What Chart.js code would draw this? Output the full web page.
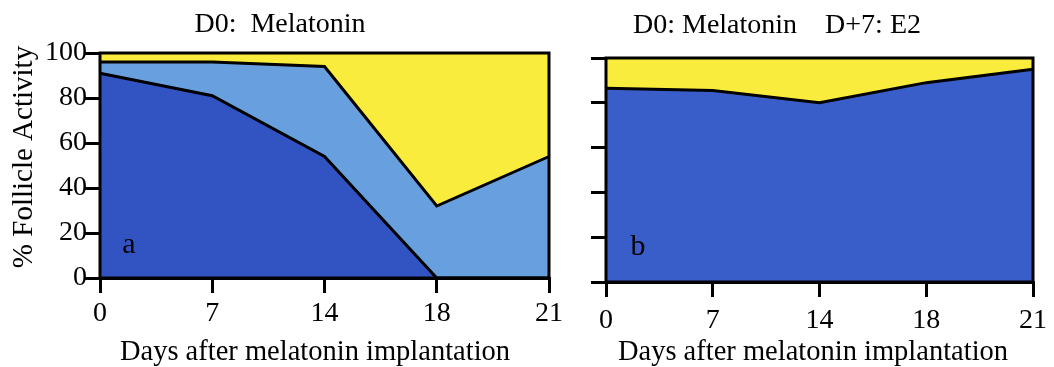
<!DOCTYPE html>
<html>
<head>
<meta charset="utf-8">
<script src="https://cdn.jsdelivr.net/npm/chart.js@4"></script>
<style>
    html, body { margin: 0; padding: 0; background: #fff; }
    #wrap { position: relative; width: 1054px; height: 367px; overflow: hidden; }
    #ca { position: absolute; left: 0; top: 0; }
    #cb { position: absolute; left: 560px; top: 0; }
</style>
</head>
<body>
<div id="wrap">
    <canvas id="ca" width="580" height="367"></canvas>
    <canvas id="cb" width="494" height="367"></canvas>
</div>
<script>
var days = ['0', '7', '14', '18', '21'];
var yTicks = [0, 20, 40, 60, 80, 100];

// panel a: stacked shares (%)
var darkA = [91, 81, 54, 0, 0];
var lightA = [5, 15, 40, 32, 54];
var yellowA = [4, 4, 6, 68, 46];

// panel b: stacked shares (%)
var darkB = [86.5, 85.5, 80, 89, 95];
var yellowB = [13.5, 14.5, 20, 11, 5];

var serif = '"Liberation Serif", "Times New Roman", serif';

// box round the plot area
var boxPlugin = {
    id: 'box',
    afterDatasetsDraw: function (chart) {
        var a = chart.chartArea, ctx = chart.ctx;
        ctx.save();
        ctx.strokeStyle = '#000';
        ctx.lineWidth = 3;
        ctx.strokeRect(a.left, a.top, a.right - a.left, a.bottom - a.top);
        ctx.restore();
    }
};

// titles and panel letters
function textPlugin(items) {
    return {
        id: 'texts',
        afterDraw: function (chart) {
            var ctx = chart.ctx;
            ctx.save();
            ctx.fillStyle = '#000';
            ctx.textBaseline = 'alphabetic';
            items.forEach(function (t) {
                ctx.save();
                ctx.font = t.size + 'px ' + serif;
                ctx.textAlign = t.align || 'center';
                ctx.translate(t.x, t.y);
                if (t.rot) ctx.rotate(t.rot);
                ctx.fillText(t.text, 0, 0);
                ctx.restore();
            });
            ctx.restore();
        }
    };
}

function areaSet(values, color, line, fill) {
    return {
        data: values,
        backgroundColor: color,
        borderColor: '#000',
        borderWidth: line ? 3 : 0,
        fill: fill,
        pointRadius: 0,
        tension: 0
    };
}

function axes(yw, xh, showY, labelPad) {
    return {
        x: {
            type: 'category',
            offset: false,
            grid: { drawOnChartArea: false, tickLength: 15, color: '#000', lineWidth: 3 },
            border: { color: '#000', width: 3 },
            ticks: { color: '#000', font: { family: serif, size: 28 }, padding: labelPad, maxRotation: 0, autoSkip: false },
            afterFit: function (s) { s.height = xh; }
        },
        y: {
            stacked: true,
            min: 0,
            max: 100,
            afterBuildTicks: function (s) { s.ticks = yTicks.map(function (v) { return { value: v }; }); },
            grid: { drawOnChartArea: false, tickLength: 15, color: '#000', lineWidth: 3 },
            border: { color: '#000', width: 3 },
            ticks: { display: showY, color: '#000', font: { family: serif, size: 28 }, padding: -2 },
            afterFit: function (s) { s.width = yw; }
        }
    };
}

new Chart(document.getElementById('ca').getContext('2d'), {
    type: 'line',
    data: {
        labels: days,
        datasets: [
            areaSet(darkA, '#3253c2', true, 'origin'),
            areaSet(lightA, '#68a0df', true, '-1'),
            areaSet(yellowA, '#f9ec3c', false, '-1')
        ]
    },
    options: {
        responsive: false,
        animation: false,
        layout: { padding: { left: 0, top: 53, right: 31, bottom: 0 } },
        plugins: { legend: { display: false }, tooltip: { enabled: false } },
        scales: axes(100, 89, true, 4)
    },
    plugins: [boxPlugin, textPlugin([
        { text: 'D0:  Melatonin', x: 280, y: 32, size: 28 },
        { text: '% Follicle Activity', x: 32, y: 157, size: 29, rot: -Math.PI / 2 },
        { text: 'Days after melatonin implantation', x: 315, y: 360, size: 28.5 },
        { text: 'a', x: 129, y: 253, size: 30 }
    ])]
});

new Chart(document.getElementById('cb').getContext('2d'), {
    type: 'line',
    data: {
        labels: days,
        datasets: [
            areaSet(darkB, '#3a5ec9', true, 'origin'),
            areaSet(yellowB, '#f9ec3c', false, '-1')
        ]
    },
    options: {
        responsive: false,
        animation: false,
        layout: { padding: { left: 0, top: 58, right: 21, bottom: 0 } },
        plugins: { legend: { display: false }, tooltip: { enabled: false } },
        scales: axes(46, 85, false, 7)
    },
    plugins: [boxPlugin, textPlugin([
        { text: 'D0: Melatonin    D+7: E2', x: 217, y: 33, size: 28 },
        { text: 'Days after melatonin implantation', x: 253, y: 360, size: 28.5 },
        { text: 'b', x: 78, y: 255, size: 30 }
    ])]
});
</script>
</body>
</html>
